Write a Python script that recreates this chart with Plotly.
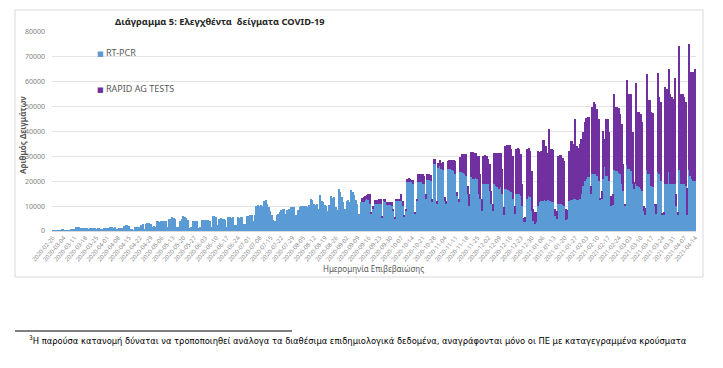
import pandas as pd
import plotly.graph_objects as go

# ---------------- data (daily, thousands of samples) ----------------
start_date = "2020-02-26"
end_date = "2021-04-14"
dates = [d.strftime("%Y-%m-%d") for d in pd.date_range(start_date, end_date, freq="D")]
tick_labels = dates[::7]

rt_pcr_k = [
    0.2, 0.2, 0.25, 0.2, 0.25, 0.3, 0.6,
    0.6, 0.3, 0.25, 0.3, 0.3, 0.7, 0.8,
    1.0, 1.5, 1.6, 1.5, 1.2, 1.3, 1.2,
    1.3, 1.1, 0.6, 1.2, 1.3, 1.2, 1.1,
    1.0, 1.2, 1.3, 0.7, 1.0, 1.3, 1.2,
    1.1, 1.2, 1.5, 1.5, 1.4, 1.5, 0.8,
    0.6, 1.3, 1.3, 1.4, 2.0, 2.4, 2.6,
    2.2, 1.0, 0.9, 0.3, 1.7, 1.8, 1.7,
    1.6, 2.6, 2.7, 0.6, 3.0, 3.1, 3.2,
    3.0, 1.8, 2.0, 1.6, 4.1, 4.1, 3.8,
    4.0, 4.1, 4.2, 4.0, 1.7, 4.7, 5.0,
    5.5, 5.2, 4.8, 1.8, 1.8, 4.2, 5.0,
    6.0, 5.5, 5.2, 4.5, 1.2, 1.5, 4.0,
    4.2, 4.0, 3.9, 1.2, 1.5, 4.5, 4.6,
    4.4, 4.5, 4.3, 4.2, 1.8, 6.0, 6.0,
    5.8, 2.4, 5.0, 5.2, 5.0, 4.8, 4.6,
    1.5, 5.5, 5.5, 5.4, 5.5, 2.4, 2.5,
    5.5, 5.4, 5.6, 5.5, 3.0, 2.8, 6.0,
    6.2, 6.4, 6.6, 4.0, 6.5, 10.0, 10.4,
    10.2, 10.4, 10.0, 12.0, 12.4, 11.0, 9.7,
    8.0, 6.5, 4.4, 4.1, 6.4, 7.0, 7.7,
    8.4, 8.7, 9.0, 7.0, 8.5, 9.0, 9.5,
    9.7, 9.5, 6.4, 6.5, 8.5, 9.5, 10.0,
    10.0, 10.2, 10.0, 9.8, 10.5, 13.0, 12.5,
    10.7, 10.5, 10.8, 9.0, 14.4, 12.0, 11.7,
    10.3, 10.0, 8.0, 10.5, 14.0, 13.2, 13.5,
    9.7, 8.5, 16.8, 15.5, 13.5, 11.7, 9.0,
    12.0, 12.4, 11.8, 16.4, 15.5, 14.5, 12.4,
    11.0, 7.0, 11.7, 11.7, 11.7, 12.5, 13.0,
    12.4, 11.0, 7.0, 9.0, 11.0, 11.0, 10.8,
    11.0, 11.0, 5.5, 12.0, 11.5, 10.4, 10.4,
    10.4, 10.0, 8.0, 5.0, 12.4, 12.4, 12.0,
    12.0, 10.0, 6.0, 8.0, 19.7, 19.7, 19.5,
    19.5, 19.0, 7.0, 12.0, 19.5, 19.5, 19.5,
    19.0, 19.0, 13.0, 20.4, 20.4, 20.0, 11.7,
    27.0, 27.0, 11.0, 25.5, 26.0, 25.0, 24.7,
    12.0, 11.0, 25.0, 25.0, 25.0, 24.5, 24.0,
    23.0, 14.0, 11.5, 23.7, 23.7, 23.5, 23.0,
    22.0, 15.0, 10.0, 21.7, 21.0, 21.0, 21.5,
    21.0, 15.0, 13.0, 8.0, 19.0, 19.0, 19.0,
    19.0, 16.0, 11.0, 8.0, 19.0, 18.0, 17.5,
    17.0, 17.5, 15.0, 6.5, 17.0, 17.0, 16.5,
    16.0, 15.5, 13.0, 7.0, 15.0, 15.0, 15.0,
    14.0, 10.0, 3.7, 3.5, 13.0, 14.0, 13.5,
    8.0, 4.0, 3.0, 3.5, 10.0, 11.7, 12.0,
    12.0, 12.5, 12.0, 12.5, 12.4, 12.0, 11.7,
    11.5, 6.0, 5.0, 11.0, 11.0, 11.0, 10.5,
    10.0, 4.5, 5.0, 12.0, 12.5, 12.5, 13.0,
    13.0, 12.5, 12.5, 13.0, 15.0, 18.0, 20.0,
    21.0, 21.7, 21.7, 15.0, 23.0, 23.0, 23.0,
    22.0, 20.0, 12.4, 13.0, 21.0, 25.7, 22.0,
    22.0, 20.0, 10.0, 10.4, 24.4, 24.0, 24.0,
    23.5, 23.0, 19.0, 16.0, 10.0, 26.4, 25.0,
    25.0, 24.0, 19.0, 16.7, 19.0, 18.0, 17.5,
    17.0, 16.0, 8.0, 6.4, 24.4, 23.0, 23.0,
    18.0, 17.5, 10.0, 7.0, 23.7, 23.0, 20.0,
    6.4, 6.4, 19.0, 19.0, 23.7, 19.0, 19.0,
    19.0, 19.0, 10.0, 6.4, 24.4, 19.0, 19.0,
    19.0, 18.0, 6.4, 24.4, 22.0, 21.0, 20.0,
    20.0,
]

rapid_ag_k = [0.0] * 199 + [
    1.5, 2.0, 1.5, 1.5,
    2.6, 4.0, 0.7, 1.0, 1.4, 1.4, 1.5,
    2.0, 2.0, 0.5, 1.0, 1.5, 1.3, 1.3,
    1.2, 1.5, 1.0, 0.7, 0.6, 0.6, 1.0,
    3.0, 2.0, 0.4, 1.0, 1.3, 1.5, 1.5,
    1.2, 1.5, 0.5, 1.0, 3.5, 3.5, 3.5,
    4.0, 3.0, 2.0, 2.6, 2.6, 2.5, 1.0,
    2.0, 2.0, 1.0, 2.0, 2.5, 2.5, 3.0,
    1.5, 1.0, 3.0, 3.4, 3.4, 4.0, 4.5,
    5.0, 1.5, 1.5, 6.0, 7.3, 7.5, 8.0,
    9.0, 3.0, 5.0, 10.0, 10.7, 10.5, 10.0,
    9.0, 15.0, 10.0, 5.0, 11.0, 11.4, 11.0,
    10.0, 11.0, 5.0, 3.0, 12.5, 13.5, 14.0,
    14.5, 14.0, 10.0, 3.0, 17.0, 17.5, 18.0,
    18.5, 17.5, 17.0, 3.0, 18.0, 18.5, 18.0,
    17.0, 9.0, 1.5, 2.0, 20.0, 19.5, 18.5,
    16.0, 5.0, 4.5, 4.0, 22.0, 20.0, 20.0,
    24.4, 24.0, 22.0, 19.0, 28.6, 21.0, 21.3,
    21.0, 3.0, 3.0, 19.0, 19.7, 19.5, 19.0,
    18.0, 4.5, 3.4, 20.0, 23.5, 23.5, 22.0,
    32.0, 21.5, 21.0, 22.0, 22.0, 22.0, 24.0,
    24.5, 24.0, 24.0, 3.0, 27.0, 29.0, 28.0,
    27.0, 25.0, 1.0, 3.0, 19.4, 11.3, 23.0,
    23.0, 20.0, 4.0, 4.6, 30.6, 25.7, 25.7,
    26.0, 24.0, 24.0, 11.0, 1.0, 34.3, 30.0,
    30.0, 31.0, 21.0, 3.0, 40.7, 30.0, 30.5,
    30.0, 28.0, 2.0, 3.0, 38.6, 29.5, 29.5,
    30.0, 30.0, 1.0, 4.0, 40.0, 31.0, 32.0,
    1.0, 1.3, 38.7, 38.0, 41.3, 36.0, 35.0,
    34.0, 42.7, 5.0, 1.3, 50.0, 36.0, 36.0,
    35.0, 34.0, 11.0, 50.9, 42.0, 43.0, 44.0,
    45.0,
]

y_ticks = [0, 10000, 20000, 30000, 40000, 50000, 60000, 70000, 80000]

n = min(len(dates), len(rt_pcr_k), len(rapid_ag_k))
dates = dates[:n]
rt_pcr = [round(v * 1000) for v in rt_pcr_k[:n]]
rapid_ag = [round(v * 1000) for v in rapid_ag_k[:n]]

# ---------------- figure ----------------
W, H = 723, 368
L, R, T, B = 52, 27, 32, 137
pw, ph = W - L - R, H - T - B


def px(x):
    return (x - L) / pw


def py(y):
    return (H - B - y) / ph


BLUE = "#5b9bd5"
PURPLE = "#7030a0"
GREY = "#595959"

fig = go.Figure()
fig.add_bar(x=dates, y=rt_pcr, name="RT-PCR", marker=dict(color=BLUE, line=dict(width=0)))
fig.add_bar(x=dates, y=rapid_ag, name="RAPID AG TESTS", marker=dict(color=PURPLE, line=dict(width=0)))

fig.update_layout(
    width=W, height=H,
    margin=dict(l=L, r=R, t=T, b=B, pad=0),
    barmode="stack", bargap=0,
    showlegend=False,
    paper_bgcolor="white", plot_bgcolor="white",
    font=dict(family="Noto Sans, DejaVu Sans", color=GREY),
)
fig.update_xaxes(
    type="category", range=[-0.5, n - 0.5],
    tickmode="array", tickvals=tick_labels, ticktext=tick_labels,
    tickangle=-50, tickfont=dict(size=6, color="#8a8a8a"),
    showgrid=False, showline=True, linecolor="#d9d9d9", linewidth=1,
    ticks="", zeroline=False,
)
fig.update_yaxes(
    range=[0, 80000], tickmode="array", tickvals=y_ticks, tickformat="d",
    tickfont=dict(size=7, color="#808080"),
    showgrid=True, gridcolor="#e3e3e3", gridwidth=1,
    zeroline=False, showline=False, ticks="", ticklabelstandoff=6,
)

# chart frame
fig.add_shape(type="rect", xref="paper", yref="paper",
              x0=px(15), x1=px(703), y0=py(277), y1=py(10),
              line=dict(color="#d9d9d9", width=1), layer="below")
# footnote rule
fig.add_shape(type="line", xref="paper", yref="paper",
              x0=px(15), x1=px(292), y0=py(331), y1=py(331),
              line=dict(color="black", width=1))

annotations = [
    dict(text="<b>Διάγραμμα 5: Ελεγχθέντα  δείγματα COVID-19</b>",
         x=px(220), y=py(21), xanchor="center", yanchor="middle",
         font=dict(size=9.3, color="#262626", family="Noto Sans, DejaVu Sans")),
    dict(text=f"<span style='color:{BLUE};font-size:7px'>■</span> RT-PCR",
         x=px(95), y=py(52), xanchor="left", yanchor="middle",
         font=dict(size=9, color=GREY)),
    dict(text=f"<span style='color:{PURPLE};font-size:7px'>■</span> RAPID AG TESTS",
         x=px(95), y=py(88), xanchor="left", yanchor="middle",
         font=dict(size=9, color=GREY)),
    dict(text="<b>Αριθμός Δειγμάτων</b>", textangle=-90,
         x=px(22), y=py(135), xanchor="center", yanchor="middle",
         font=dict(size=8, color=GREY)),
    dict(text="Ημερομηνία Επιβεβαιώσης",
         x=px(373), y=py(268), xanchor="center", yanchor="middle",
         font=dict(size=8, color=GREY)),
    dict(text="<sup>3</sup>Η παρούσα κατανομή δύναται να τροποποιηθεί ανάλογα τα διαθέσιμα επιδημιολογικά δεδομένα, αναγράφονται μόνο οι ΠΕ με καταγεγραμμένα κρούσματα",
         x=px(27), y=py(340), xanchor="left", yanchor="middle",
         font=dict(size=9.3, color="black", family="Liberation Sans Narrow, DejaVu Sans Condensed, sans-serif")),
]
for a in annotations:
    a.update(xref="paper", yref="paper", showarrow=False)
    fig.add_annotation(**a)

fig.write_html("out.html", config={"displayModeBar": False},
               post_script="document.body.style.margin='0px';")
